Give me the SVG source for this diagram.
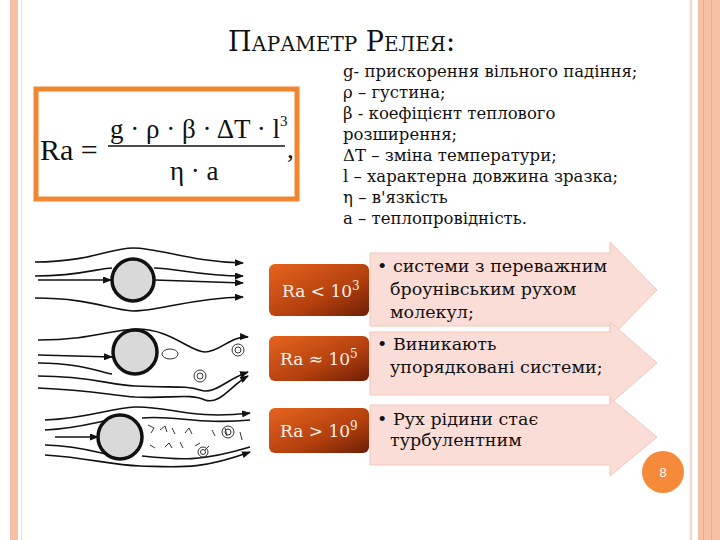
<svg xmlns="http://www.w3.org/2000/svg" width="720" height="540" viewBox="0 0 720 540">
<defs>
<linearGradient id="dk" x1="0" y1="0" x2="1" y2="1"><stop offset="0" stop-color="#E8641E"/><stop offset="0.6" stop-color="#B3400E"/><stop offset="1" stop-color="#6E1E06"/></linearGradient>
<marker id="ah" markerUnits="userSpaceOnUse" markerWidth="9" markerHeight="7" refX="8" refY="3.5" orient="auto"><path d="M0,0 L9,3.5 L0,7 Z" fill="#111"/></marker>
</defs>
<style>
.s{font-family:"DejaVu Serif","Liberation Serif",serif;fill:#111}
.d{font-size:16.5px}
.a{font-size:17.5px}
.fl{fill:none;stroke:#111;stroke-width:1.6}
.ar{fill:#FADDD6;stroke:#F2C6BA;stroke-width:1}
.ra{font-family:"DejaVu Serif",serif;font-size:17px;fill:#FFF1E6}
.c{fill:#D9D9D9;stroke:#111;stroke-width:3.5}
</style>
<rect width="720" height="540" fill="#fff"/>
<rect x="10" y="0" width="8" height="540" fill="#F7BFA6"/>
<rect x="21" y="0" width="1" height="540" fill="#F3D6C8"/>
<rect x="690" y="0" width="2" height="540" fill="#F3D6C8"/>
<rect x="698" y="0" width="22" height="540" fill="#F7BFA6"/>
<rect x="703" y="0" width="1" height="540" fill="#F2A98A"/>
<rect x="711" y="0" width="1" height="540" fill="#F2A98A"/>
<text class="s" x="228" y="51" font-size="27" font-family="Liberation Serif,serif">П<tspan font-size="20">АРАМЕТР</tspan> Р<tspan font-size="20">ЕЛЕЯ</tspan>:</text>
<g id="formula">
<rect x="36" y="89" width="261" height="110" fill="#fff" stroke="#F0862F" stroke-width="5"/>
<g font-family="Liberation Serif,serif" fill="#111">
<text x="40" y="160" font-size="30">Ra =</text>
<text x="110" y="138" font-size="27">g · ρ · β · ΔT · l<tspan font-size="15" dy="-12">3</tspan></text>
<line x1="108" y1="146" x2="285" y2="146" stroke="#111" stroke-width="1.5"/>
<text x="170" y="180" font-size="27">η · a</text>
<text x="287" y="158" font-size="27">,</text>
</g>
</g>
<g id="legend" class="s d">
<text x="343" y="77">g- прискорення вільного падіння;</text>
<text x="343" y="98">ρ – густина;</text>
<text x="343" y="119">β -  коефіцієнт теплового</text>
<text x="343" y="140">розширення;</text>
<text x="343" y="161">ΔT – зміна температури;</text>
<text x="343" y="182">l – характерна довжина зразка;</text>
<text x="343" y="203">η – в'язкість</text>
<text x="343" y="224">a – теплопровідність.</text>
</g>
<g id="flows">
<path class="fl" d="M35,262 C90,262 110,248 133,248 C160,248 190,262 243,263" marker-end="url(#ah)"/>
<path class="fl" d="M35,276 C80,276 100,268 112,268" />
<path class="fl" d="M154,268 C175,268 200,276 243,276" marker-end="url(#ah)"/>
<path class="fl" d="M38,280 L111,280" marker-end="url(#ah)"/>
<path class="fl" d="M155,280 L243,283" marker-end="url(#ah)"/>
<path class="fl" d="M35,298 C90,298 110,310 133,311 C160,311 190,298 243,297" marker-end="url(#ah)"/>
<circle class="c" cx="133" cy="280" r="21"/>
<path class="fl" d="M38,340 C90,340 110,330 135,329 C170,328 190,352 205,352 C220,352 230,336 248,337" marker-end="url(#ah)"/>
<path class="fl" d="M38,355 L112,357" marker-end="url(#ah)"/>
<path class="fl" d="M38,363 C80,363 100,372 112,374"/>
<path class="fl" d="M38,376 C90,376 110,385 135,386 C170,388 185,385 200,390 C215,395 225,380 248,372" marker-end="url(#ah)"/>
<path class="fl" d="M38,388 C90,390 110,395 135,397 C170,399 190,393 205,400 C220,405 230,386 248,376" marker-end="url(#ah)"/>
<circle class="c" cx="135" cy="352" r="22"/>
<ellipse cx="170" cy="354" rx="8" ry="5" fill="none" stroke="#333"/>
<circle cx="238" cy="350" r="6" fill="none" stroke="#333"/><circle cx="238" cy="350" r="3" fill="none" stroke="#333"/>
<circle cx="200" cy="376" r="6" fill="none" stroke="#333"/><circle cx="200" cy="376" r="3" fill="none" stroke="#333"/>
<path class="fl" d="M45,420 C90,418 110,408 135,407 C170,406 190,420 250,413" marker-end="url(#ah)"/>
<path class="fl" d="M45,430 C80,428 95,422 110,420"/>
<path class="fl" d="M55,437 L98,437" marker-end="url(#ah)"/>
<path class="fl" d="M45,445 C80,446 95,452 110,455"/>
<path class="fl" d="M45,455 C90,458 110,465 140,466 C180,467 200,470 250,452" marker-end="url(#ah)"/>
<path class="fl" d="M142,418 C175,415 200,425 250,420" stroke-width="1.2"/>
<path class="fl" d="M142,456 C180,460 200,462 250,447" stroke-width="1.2"/>
<path d="M148,425 l6,3 l-3,5 M160,430 l5,-4 l2,6 M172,428 l3,6 M185,433 l4,-5 l3,6 M150,445 l5,3 M165,447 l4,-4 l3,5 M180,442 l3,6 M195,446 l5,-3 M212,430 l3,6 M225,428 l2,8 M240,432 l2,8 M205,450 l4,-4" fill="none" stroke="#333" stroke-width="1"/>
<circle cx="228" cy="432" r="6" fill="none" stroke="#333"/><circle cx="228" cy="432" r="3" fill="none" stroke="#333"/>
<circle cx="203" cy="452" r="5" fill="none" stroke="#333"/><circle cx="203" cy="452" r="2.5" fill="none" stroke="#333"/>
<circle class="c" cx="120" cy="437" r="22"/>
</g>
<g id="arrow1"><path class="ar" d="M370,253 H610 V242 L657,290 L610,338 V326 H370 Z"/>
<text class="s a" x="377" y="272">•  системи з переважним</text>
<text class="s a" x="390" y="295">броунівським рухом</text>
<text class="s a" x="390" y="318">молекул;</text></g>
<g id="arrow2"><path class="ar" d="M370,332 H610 V322 L657,363 L610,404 V395 H370 Z"/>
<text class="s a" x="377" y="350">•  Виникають</text>
<text class="s a" x="390" y="373">упорядковані системи;</text></g>
<g id="arrow3"><path class="ar" d="M370,405 H610 V398 L657,437 L610,476 V465 H370 Z"/>
<text class="s a" x="377" y="425">•  Рух рідини стає</text>
<text class="s a" x="390" y="446">турбулентним</text></g>
<g id="ra1"><rect x="269" y="264" width="100" height="52" rx="6" fill="url(#dk)"/><text class="ra" x="282" y="297">Ra &lt; 10<tspan font-size="12" dy="-7">3</tspan></text></g>
<g id="ra2"><rect x="269" y="336" width="100" height="45" rx="6" fill="url(#dk)"/><text class="ra" x="280" y="365">Ra ≈ 10<tspan font-size="12" dy="-7">5</tspan></text></g>
<g id="ra3"><rect x="269" y="408" width="100" height="45" rx="6" fill="url(#dk)"/><text class="ra" x="280" y="437">Ra &gt; 10<tspan font-size="12" dy="-7">9</tspan></text></g>
<g id="page"><circle cx="663" cy="472" r="21" fill="#F58A3A"/><text x="663" y="477" text-anchor="middle" font-family="Liberation Sans,sans-serif" font-size="13" fill="#fff">8</text></g>
</svg>
